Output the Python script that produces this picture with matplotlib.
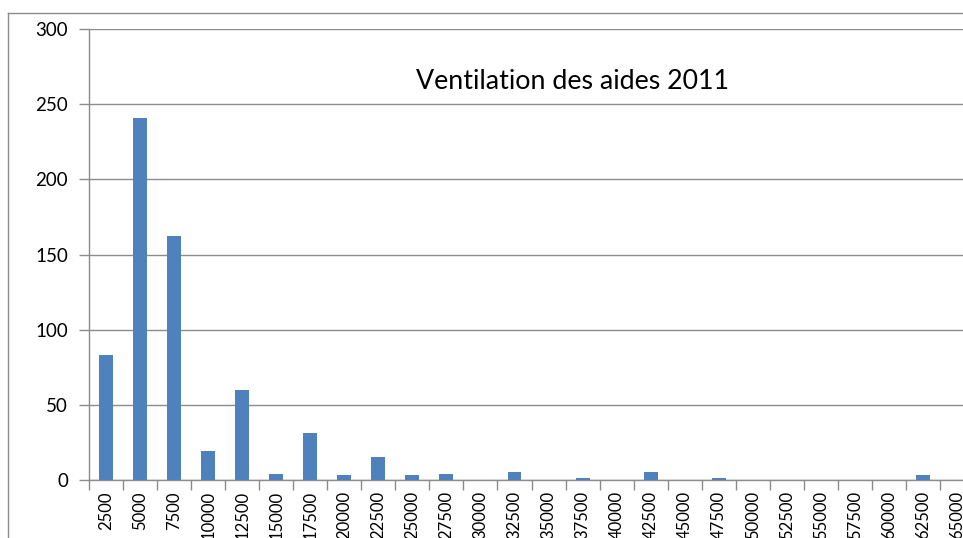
import matplotlib
matplotlib.use("Agg")
import matplotlib.pyplot as plt
import numpy as np
from matplotlib.lines import Line2D

categories = ["2500", "5000", "7500", "10000", "12500", "15000", "17500", "20000",
              "22500", "25000", "27500", "30000", "32500", "35000", "37500", "40000",
              "42500", "45000", "47500", "50000", "52500", "55000", "57500", "60000",
              "62500", "65000"]
values = [83, 241, 162, 19, 60, 4, 31, 3, 15, 3, 4, 0, 5, 0, 1, 0, 5, 0, 1,
          0, 0, 0, 0, 0, 3, 0]
yticks = [0, 50, 100, 150, 200, 250, 300]
title = "Ventilation des aides 2011"

plt.rcParams['font.family'] = ['Lato', 'DejaVu Sans']

fig = plt.figure(figsize=(9.63, 5.38), dpi=100)
W, H = 963, 538
left, right, top, bottom = 89, 974, 29, 480
ax = fig.add_axes([left / W, 1 - bottom / H, (right - left) / W, (bottom - top) / H])

x = np.arange(len(categories))
ax.bar(x, values, width=0.41, color="#4F81BD", zorder=3)
ax.set_xlim(-0.5, len(categories) - 0.5)
ax.set_ylim(0, 300)
ax.set_yticks(yticks)
ax.set_yticklabels([str(v) for v in yticks], fontsize=13.5)
ax.yaxis.grid(True, color="#8C8C8C", linewidth=1.0, zorder=0)
ax.set_xticks(x)
ax.set_xticklabels(categories, rotation=90, fontsize=12)
ax.tick_params(axis='x', length=0, pad=8)
ax.set_xticks(np.arange(len(categories) + 1) - 0.5, minor=True)
ax.tick_params(axis='x', which='minor', length=7, color="#8C8C8C", width=1)
ax.tick_params(axis='y', length=7, color="#8C8C8C", width=1, pad=8)
for s in ['top', 'right']:
    ax.spines[s].set_visible(False)
for s in ['left', 'bottom']:
    ax.spines[s].set_color("#8C8C8C")
    ax.spines[s].set_linewidth(1.0)

fig.text(573 / W, 1 - 82 / H, title, ha='center', va='center', fontsize=19.3)

# outer chart border (cropped)
fig.add_artist(Line2D([8 / W, 8 / W], [0, 1 - 13 / H], color="#8C8C8C", linewidth=1.0,
                      transform=fig.transFigure))
fig.add_artist(Line2D([8 / W, 1], [1 - 13 / H, 1 - 13 / H], color="#8C8C8C", linewidth=1.0,
                      transform=fig.transFigure))

fig.savefig("out.png", dpi=100)
